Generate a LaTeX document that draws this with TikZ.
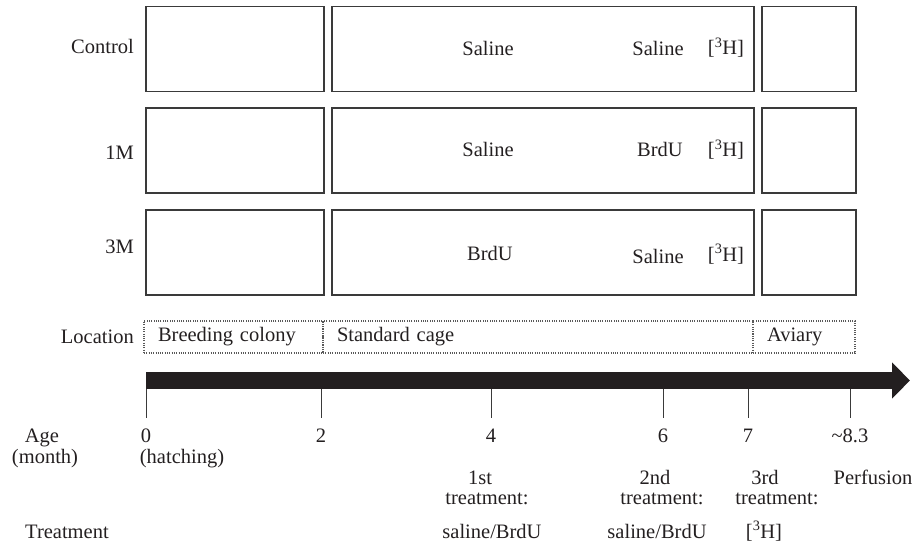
\documentclass[tikz,border=0pt]{standalone}
\usepackage{fontspec}
\setmainfont{Liberation Serif}
\usepackage{xcolor}
\usepackage{tikz}
\usetikzlibrary{arrows.meta}

\definecolor{ink}{HTML}{231F20}
\definecolor{frame}{HTML}{3A3A3A}

\begin{document}
\begin{tikzpicture}[x=1pt,y=-1pt]
\tikzstyle{txt}=[inner sep=0pt, anchor=base, text=ink, font=\fontsize{20.5}{24}\selectfont]
\tikzstyle{stage}=[draw=frame, line width=1.2pt, minimum height=85pt, inner sep=0pt]
\tikzstyle{locbox}=[draw=black!65, line width=1.1pt, dash pattern=on 1pt off 1.3pt, minimum height=32pt, inner xsep=14pt, inner ysep=0pt, align=left, text=ink, font=\fontsize{20.5}{24}\selectfont]
\tikzstyle{timeline}=[draw=ink, line width=17pt, -{Triangle[length=18pt, width=35pt]}]
\tikzstyle{agetick}=[draw=frame, line width=1pt]

\useasboundingbox (0,0) rectangle (917,545);

% Group rows: colony / standard cage / aviary
\foreach \grp/\yc in {ctrl/49, onem/150.5, threem/252.5} {
  \node[stage, minimum width=178pt] (\grp-colony) at (235,\yc) {};
  \node[stage, minimum width=422pt] (\grp-cage) at (543,\yc) {};
  \node[stage, minimum width=94pt] (\grp-aviary) at (809,\yc) {};
}

\node[txt, anchor=base east] (lbl-ctrl) at (134,54) {Control};
\node[txt, anchor=base east] (lbl-onem) at (134,160) {1M};
\node[txt, anchor=base east] (lbl-threem) at (134,253) {3M};

\node[txt] (ctrl-first) at (488,56) {Saline};
\node[txt] (ctrl-second) at (658,56) {Saline};
\node[txt] (ctrl-third) at (726,55) {[\textsuperscript{3}H]};
\node[txt] (onem-first) at (488,157) {Saline};
\node[txt] (onem-second) at (660,157) {BrdU};
\node[txt] (onem-third) at (726,157) {[\textsuperscript{3}H]};
\node[txt] (threem-first) at (490,260) {BrdU};
\node[txt] (threem-second) at (658,263) {Saline};
\node[txt] (threem-third) at (726,261) {[\textsuperscript{3}H]};

% Location
\node[txt, anchor=base east] (lbl-loc) at (134,343) {Location};
\node[locbox, text width=151pt] (loc-colony) at (233.5,337) {Breeding colony};
\node[locbox, text width=402pt] (loc-cage) at (538,337) {Standard cage};
\node[locbox, text width=74pt] (loc-aviary) at (804,337) {Aviary};

% Time axis
\coordinate (t-start) at (146,380.5);
\coordinate (t-end) at (910,380.5);
\draw[timeline] (t-start) -- (t-end);

\foreach \x/\n/\lab in {146/zero/0, 321/two/2, 491/four/4, 663/six/6, 748/seven/7, 850/perf/\textasciitilde 8.3} {
  \coordinate (tick-\n) at (\x,389);
  \coordinate (tick-\n-end) at (\x,418);
  \draw[agetick] (tick-\n) -- (tick-\n-end);
  \node[txt] (age-\n) at (\x,442) {\lab};
}

\node[txt] (lbl-age) at (42,442) {Age};
\node[txt] (lbl-month) at (45,463) {(month)};
\node[txt] (age-hatch) at (182,463) {(hatching)};

% Treatments
\node[txt] (tr1-num) at (480,484) {1st};
\node[txt] (tr1-word) at (487,504) {treatment:};
\node[txt] (tr1-what) at (492,538) {saline/BrdU};
\node[txt] (tr2-num) at (655,484) {2nd};
\node[txt] (tr2-word) at (662,504) {treatment:};
\node[txt] (tr2-what) at (657,538) {saline/BrdU};
\node[txt] (tr3-num) at (765,484) {3rd};
\node[txt] (tr3-word) at (777,504) {treatment:};
\node[txt] (tr3-what) at (764,538) {[\textsuperscript{3}H]};
\node[txt] (tr-perf) at (873,484) {Perfusion};
\node[txt, anchor=base west] (lbl-treat) at (25,538) {Treatment};
\end{tikzpicture}
\end{document}
